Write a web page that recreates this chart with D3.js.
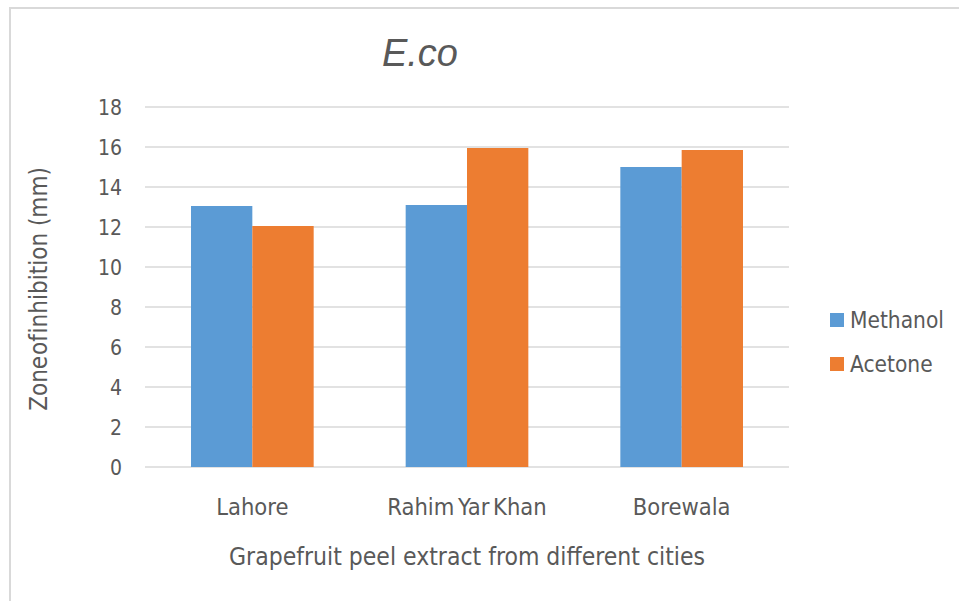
<!DOCTYPE html>
<html>
<head>
<meta charset="utf-8">
<script src="https://cdn.jsdelivr.net/npm/d3@7"></script>
<style>
  html, body { margin: 0; padding: 0; background: #fff; }
  svg { display: block; }
  .lbl { font-family: "DejaVu Sans", "Open Sans", sans-serif; font-stretch: condensed; fill: #595959; }
</style>
</head>
<body>
<script>
// Zone of inhibition (mm) for E. coli, grapefruit peel extracts
const cities = ["Lahore", "Rahim Yar Khan", "Borewala"];
const seriesNames = ["Methanol", "Acetone"];
const methanol = [13.05, 13.1, 15.0];
const acetone = [12.05, 15.95, 15.85];
const yTicks = [0, 2, 4, 6, 8, 10, 12, 14, 16, 18];
const colors = ["#5B9BD5", "#ED7D31"];

const W = 959, H = 601;
const svg = d3.select("body").append("svg").attr("width", W).attr("height", H);

// chart frame (top and left edges)
svg.append("path")
  .attr("d", `M10,${H} L10,8 L${W},8`)
  .attr("fill", "none").attr("stroke", "#d9d9d9").attr("stroke-width", 2);

const plot = { left: 145, right: 789, top: 107, bottom: 467 };

const y = d3.scaleLinear().domain([0, 18]).range([plot.bottom, plot.top]);
const x0 = d3.scaleBand().domain(cities).range([plot.left, plot.right]).padding(0);
// two bars per group with a 150% gap between groups
const groupW = x0.bandwidth() * 2 / 3.5;
const x1 = d3.scaleBand().domain(seriesNames).range([0, groupW]).padding(0);

// gridlines
svg.append("g").selectAll("line").data(yTicks).join("line")
  .attr("x1", plot.left).attr("x2", plot.right)
  .attr("y1", d => y(d)).attr("y2", d => y(d))
  .attr("stroke", "#d9d9d9").attr("stroke-width", 1.5);

// y-axis labels
const yAxis = d3.axisLeft(y).tickValues(yTicks).tickSize(0).tickPadding(0);
const gy = svg.append("g").attr("transform", `translate(122,0)`).call(yAxis);
gy.select(".domain").remove();
gy.selectAll("text").attr("class", "lbl").style("font-size", "21px").attr("dy", "0.35em").attr("x", 0);

// bars
const rows = cities.map((c, i) => ({ city: c, vals: [methanol[i], acetone[i]] }));
const groups = svg.append("g").selectAll("g").data(rows).join("g")
  .attr("transform", d => `translate(${x0(d.city) + (x0.bandwidth() - groupW) / 2},0)`);
groups.selectAll("rect").data(d => d.vals.map((v, k) => ({ k, v }))).join("rect")
  .attr("x", d => x1(seriesNames[d.k]))
  .attr("width", x1.bandwidth())
  .attr("y", d => y(d.v))
  .attr("height", d => y(0) - y(d.v))
  .attr("fill", d => colors[d.k]);

// category labels
const xAxis = d3.axisBottom(x0).tickSize(0).tickPadding(0);
const gx = svg.append("g").attr("transform", `translate(0,${plot.bottom})`).call(xAxis);
gx.select(".domain").remove();
gx.selectAll("text").attr("class", "lbl").style("font-size", "23.5px")
  .attr("y", 48).attr("dy", 0).style("word-spacing", "-3px");

// title
svg.append("text").attr("x", 420).attr("y", 66).attr("text-anchor", "middle")
  .style("font-family", "'Liberation Sans Narrow', 'Liberation Sans', Arial, sans-serif")
  .style("font-style", "italic").style("font-size", "38px").style("fill", "#595959")
  .text("E.co");

// axis titles
svg.append("text").attr("class", "lbl").attr("x", 467).attr("y", 565)
  .attr("text-anchor", "middle").style("font-size", "24.5px")
  .text("Grapefruit peel extract from different cities");

const yTitle = svg.append("text").attr("class", "lbl")
  .attr("transform", "translate(47,289) rotate(-90)")
  .attr("text-anchor", "middle").style("font-size", "24px");
yTitle.append("tspan").style("word-spacing", "-6px").text("Zone of inhibition");
yTitle.append("tspan").text(" (mm)");

// legend
const legend = svg.append("g").selectAll("g").data(seriesNames).join("g")
  .attr("transform", (d, i) => `translate(830,${313 + i * 44})`);
legend.append("rect").attr("width", 14).attr("height", 14).attr("fill", (d, i) => colors[i]);
legend.append("text").attr("class", "lbl").attr("x", 20).attr("y", 15)
  .style("font-size", "22.5px").text(d => d);
</script>
</body>
</html>
